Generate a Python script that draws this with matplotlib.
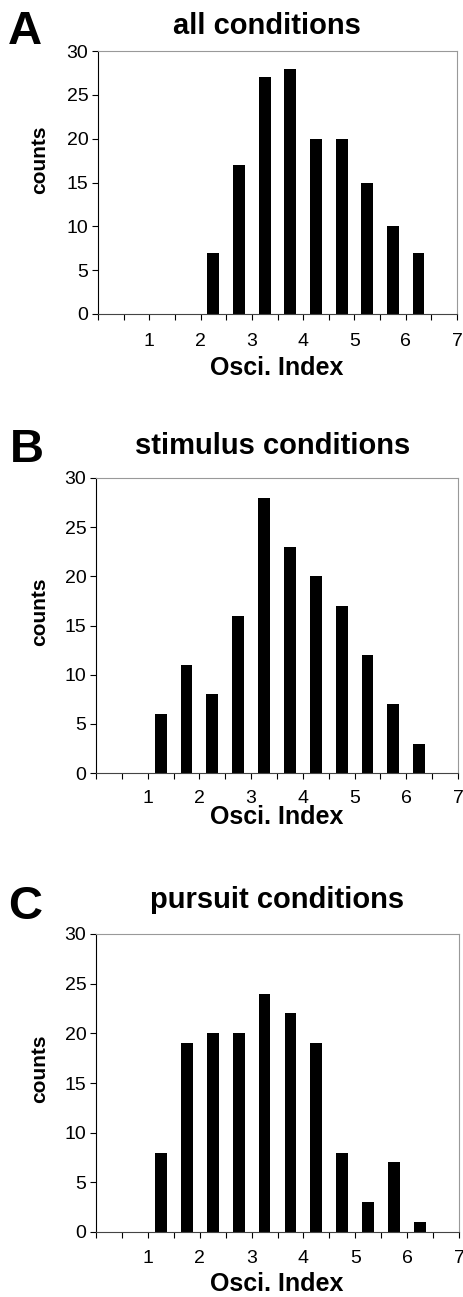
import numpy as np
import matplotlib
matplotlib.use("Agg")
import matplotlib.pyplot as plt

plt.rcParams['font.family'] = ['Liberation Sans', 'DejaVu Sans']

# ================= data =================
bin_edges = [0.0, 0.5, 1.0, 1.5, 2.0, 2.5, 3.0, 3.5, 4.0, 4.5, 5.0, 5.5, 6.0, 6.5, 7.0]
counts_all = [0, 0, 0, 0, 7, 17, 27, 28, 20, 20, 15, 10, 7, 0]
counts_stimulus = [0, 0, 6, 11, 8, 16, 28, 23, 20, 17, 12, 7, 3, 0]
counts_pursuit = [0, 0, 8, 19, 20, 20, 24, 22, 19, 8, 3, 7, 1, 0]
panel_letters = ["A", "B", "C"]
panel_titles = ["all conditions", "stimulus conditions", "pursuit conditions"]
y_ticks = [0, 5, 10, 15, 20, 25, 30]
x_labels = ["1", "2", "3", "4", "5", "6", "7"]
# ========================================

W, H = 463, 1297
fig = plt.figure(figsize=(W / 100, H / 100), dpi=100)

# layout in pixels (left, top, right, bottom)
boxes = [(98, 51, 457, 314), (96, 478, 458, 773), (96, 934, 459, 1232)]
title_pos = [(267, 26), (273, 446), (277, 900)]
letter_pos = [(25, 32), (27, 450), (25, 907)]
xlabel_y = [368, 817, 1284]
counts_y = [160, 612, 1069]
tick_pad = [10, 8, 9]

def px(x, y):
    return x / W, 1 - y / H

edges = np.array(bin_edges)
centers = (edges[:-1] + edges[1:]) / 2
width = 0.23

for i, counts in enumerate([counts_all, counts_stimulus, counts_pursuit]):
    l, t, r, b = boxes[i]
    ax = fig.add_axes([l / W, 1 - b / H, (r - l) / W, (b - t) / H])
    ax.bar(centers, counts, width=width, color="black")
    ax.set_xlim(edges[0], edges[-1])
    ax.set_ylim(0, 30)
    ax.set_yticks(y_ticks)
    ax.set_yticklabels([str(v) for v in y_ticks], fontsize=14)
    ax.set_xticks(edges)
    labels = []
    for e in edges:
        if e >= 1 and float(e).is_integer():
            labels.append(x_labels[int(e) - 1])
        else:
            labels.append("")
    ax.set_xticklabels(labels, fontsize=14)
    ax.tick_params(axis="x", length=4, width=0.8, pad=tick_pad[i])
    ax.tick_params(axis="y", length=4, width=0.8, pad=3)
    ax.spines["left"].set_color("black")
    ax.spines["bottom"].set_color("#444444")
    ax.spines["top"].set_color("#999999")
    ax.spines["right"].set_color("#999999")
    for s in ax.spines.values():
        s.set_linewidth(0.8)

    fx, fy = px(40, counts_y[i])
    fig.text(fx, fy, "counts", fontsize=15, fontweight="bold", rotation=90, ha="center", va="center")
    fx, fy = px(*title_pos[i])
    fig.text(fx, fy, panel_titles[i], fontsize=21, fontweight="bold", ha="center", va="center")
    fx, fy = px(*letter_pos[i])
    fig.text(fx, fy, panel_letters[i], fontsize=34, fontweight="bold", ha="center", va="center")
    fx, fy = px(277, xlabel_y[i])
    fig.text(fx, fy, "Osci. Index", fontsize=18, fontweight="bold", ha="center", va="center")

fig.savefig("out.png", dpi=100)
